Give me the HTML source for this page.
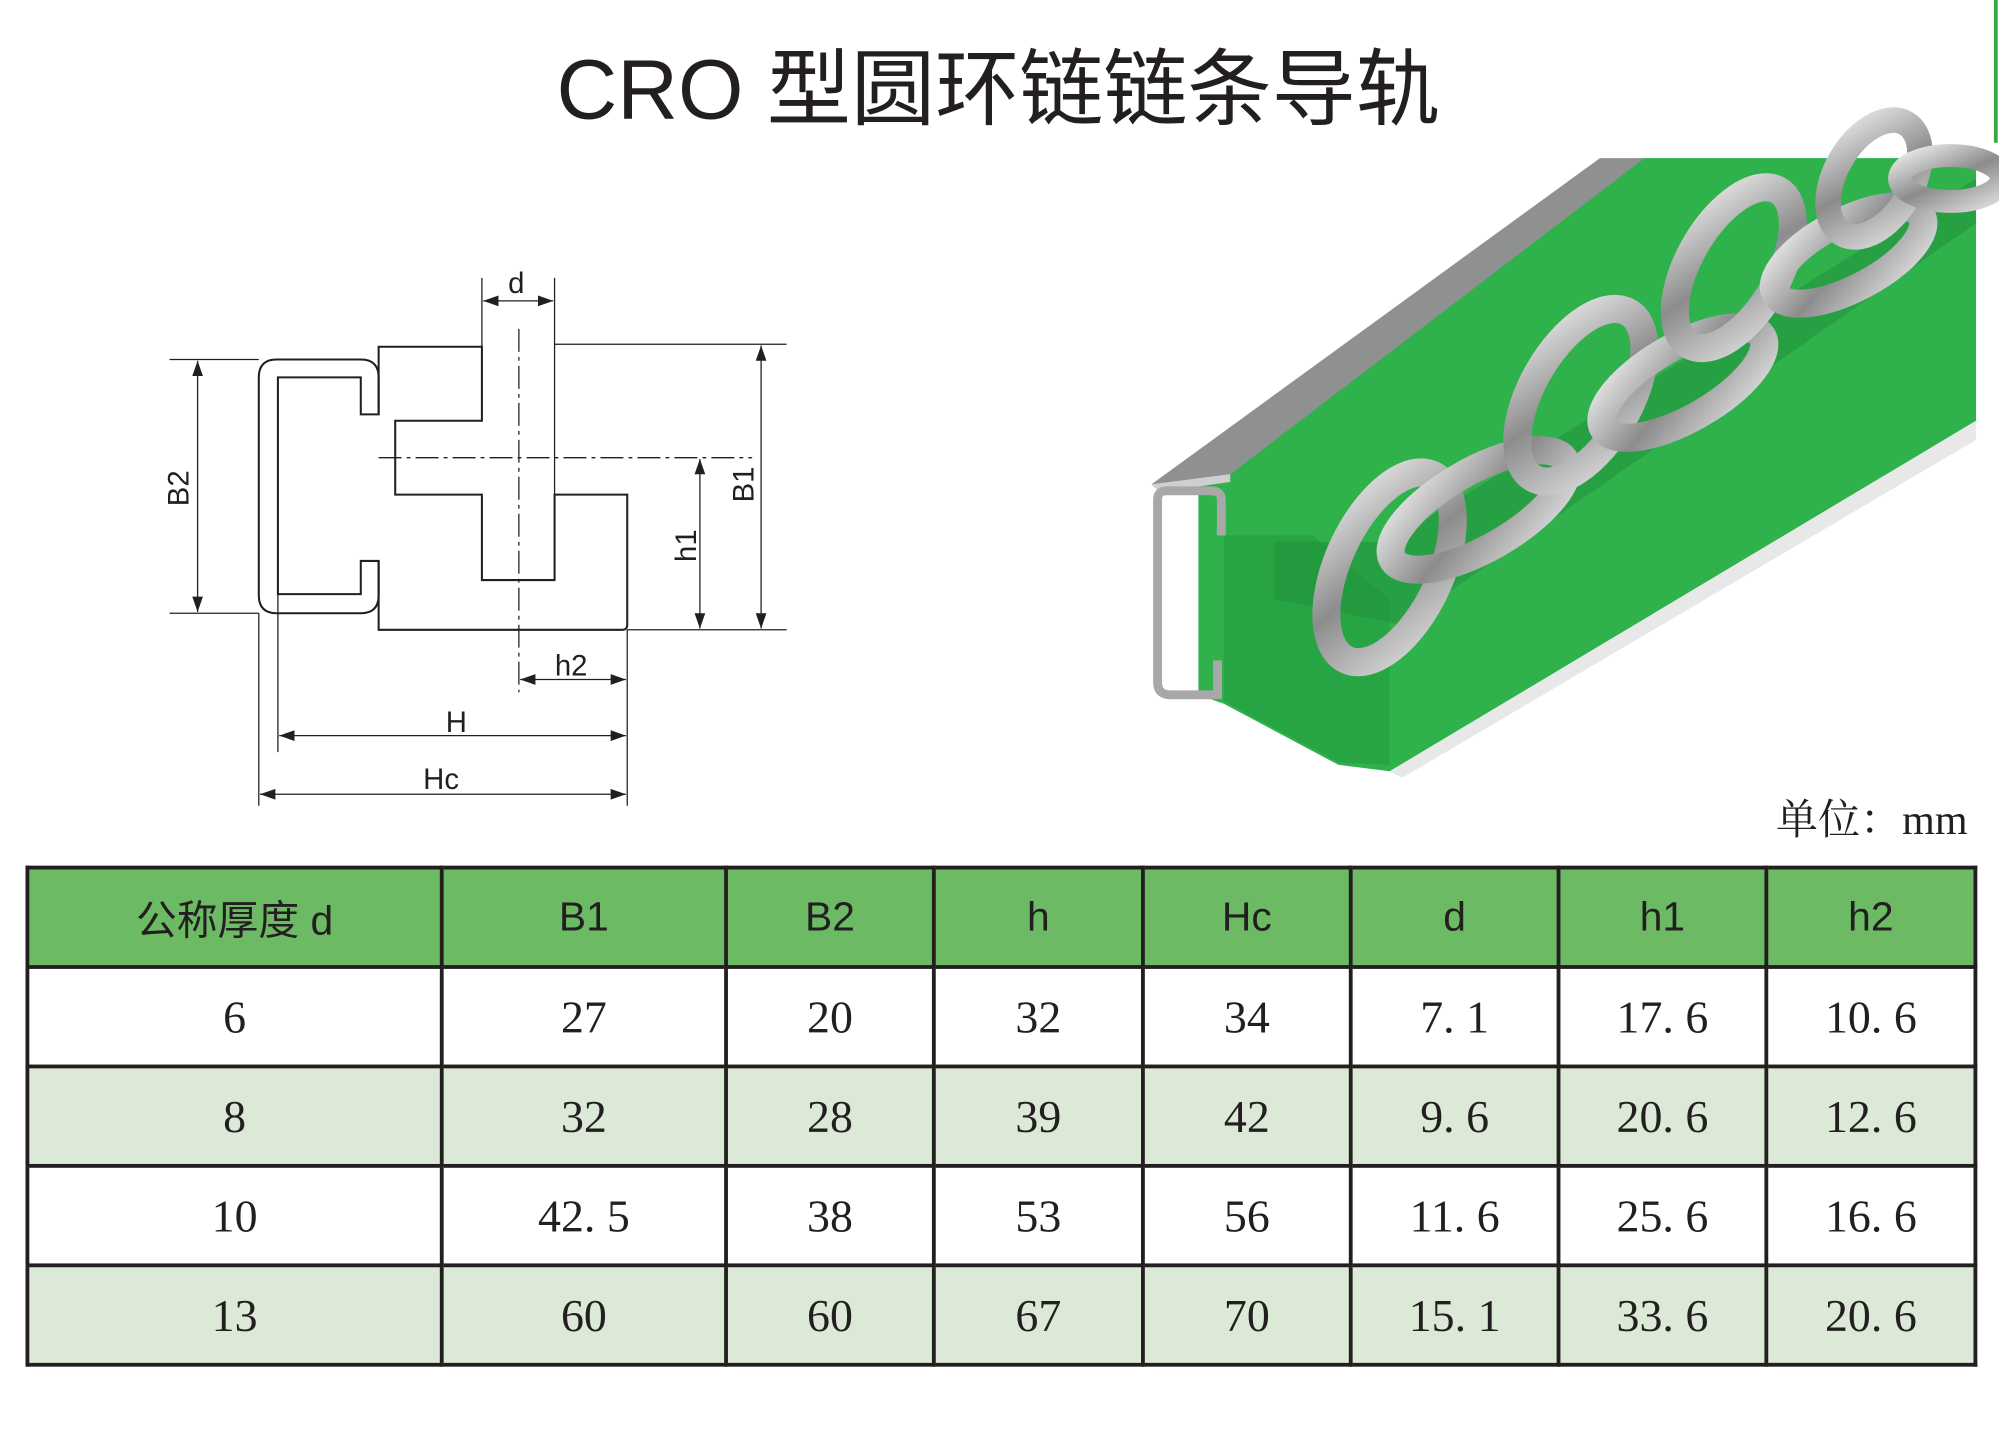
<!DOCTYPE html>
<html><head><meta charset="utf-8">
<style>
html,body{margin:0;padding:0;background:#fff;}
body{width:1999px;height:1447px;overflow:hidden;position:relative;}
#w{position:absolute;left:0;top:0;width:1568px;height:1135px;transform:scale(1.27487,1.27489);transform-origin:0 0;}
.t{position:absolute;font-family:"Liberation Sans","Noto Sans CJK SC",sans-serif;}
#title{left:300px;width:966px;top:30px;text-align:center;font-size:66px;color:#231f20;line-height:80px;white-space:nowrap;}
#unit{left:1393px;top:617px;font-family:"Liberation Serif","Noto Serif CJK SC",serif;font-size:33px;color:#231f20;}
table{position:absolute;left:20px;top:679px;border-collapse:collapse;}
td{border:3px solid #231f20;text-align:center;padding:0;font-family:"Liberation Serif","Noto Serif CJK SC",serif;font-size:36px;color:#231f20;height:75px;}
tr.h td{background:#6cba63;font-family:"Liberation Sans","Noto Sans CJK SC",sans-serif;font-size:32px;}
tr.g td{background:#dbe9d6;}
</style></head><body><div id="w">
<div class="t" id="title">CRO 型圆环链链条导轨</div>
<div style="position:absolute;left:1564px;top:0;width:3px;height:112px;background:#3aa845"></div>

<svg width="1568" height="1135" style="position:absolute;left:0;top:0" xmlns="http://www.w3.org/2000/svg">
<defs>
<marker id="a" viewBox="0 0 10 10" refX="10" refY="5" markerWidth="12" markerHeight="12" markerUnits="userSpaceOnUse" orient="auto-start-reverse"><path d="M0,1.5 L10,5 L0,8.5z" fill="#231f20"/></marker>
<linearGradient id="st" x1="0" y1="0" x2="1" y2="1"><stop offset="0" stop-color="#e4e4e4"/><stop offset=".5" stop-color="#8c8c8c"/><stop offset="1" stop-color="#d8d8d8"/></linearGradient>
</defs>
<g stroke="#231f20" fill="none" stroke-width="1.6">
<path d="M297,325 V296 Q297,282 283,282 H217 Q203,282 203,296 V467 Q203,481 217,481 H283 Q297,481 297,467 V440 H283 V466 H218 V296 H283 V325 Z"/>
<path d="M297,325 V272 H378 V330 H310 V388 H378 V455 H435 V388 H492 V490 Q492,494 488,494 H297 V440"/>
</g>
<g stroke="#231f20" stroke-width="1" fill="none">
<line x1="133" y1="282" x2="203" y2="282"/><line x1="133" y1="481" x2="203" y2="481"/>
<line x1="435" y1="270" x2="617" y2="270"/><line x1="492" y1="494" x2="617" y2="494"/>
<line x1="378" y1="218" x2="378" y2="272"/><line x1="435" y1="218" x2="435" y2="388"/>
<line x1="218" y1="466" x2="218" y2="590"/><line x1="203" y1="481" x2="203" y2="632"/>
<line x1="492" y1="494" x2="492" y2="632"/>
<line x1="407" y1="258" x2="407" y2="543" stroke-dasharray="18,4,3,4"/>
<line x1="297" y1="359" x2="590" y2="359" stroke-dasharray="18,4,3,4"/>
<line x1="155" y1="283" x2="155" y2="480" marker-start="url(#a)" marker-end="url(#a)"/>
<line x1="597" y1="271" x2="597" y2="493" marker-start="url(#a)" marker-end="url(#a)"/>
<line x1="549" y1="360" x2="549" y2="493" marker-start="url(#a)" marker-end="url(#a)"/>
<line x1="379" y1="236" x2="434" y2="236" marker-start="url(#a)" marker-end="url(#a)"/>
<line x1="408" y1="533" x2="491" y2="533" marker-start="url(#a)" marker-end="url(#a)"/>
<line x1="219" y1="577" x2="491" y2="577" marker-start="url(#a)" marker-end="url(#a)"/>
<line x1="204" y1="623" x2="491" y2="623" marker-start="url(#a)" marker-end="url(#a)"/>
</g>
<g font-family="Liberation Sans,sans-serif" font-size="23" fill="#231f20" text-anchor="middle">
<text x="405" y="230">d</text>
<text x="448" y="530">h2</text>
<text x="358" y="574">H</text>
<text x="346" y="619">Hc</text>
<text transform="translate(148,383) rotate(-90)">B2</text>
<text transform="translate(591,380) rotate(-90)">B1</text>
<text transform="translate(546,428) rotate(-90)">h1</text>
</g>

<polygon points="940,378 965,372 1285,124 1550,124 1550,330 1090,605 1050,600 960,552 940,545" fill="#2fb14c"/>
<polygon points="1090,605 1550,330 1550,345 1100,610" fill="#e8e8e8"/>
<polygon points="960,420 1030,420 1090,470 1090,600 1050,598 960,550" fill="#27a443"/>
<polygon points="1000,425 1090,425 1550,140 1550,175 1100,490 1000,470" fill="#1f8f3a" opacity=".5"/>
<polygon points="903,380 1255,124 1290,124 965,372" fill="#8e9190"/>
<polygon points="903,380 965,372 965,378 910,386" fill="#cfcfcf"/>
<path d="M958,420 V392 Q958,385 950,385 H915 Q908,385 908,392 V535 Q908,545 918,545 H955 V518" stroke="#a8a8a8" stroke-width="7" fill="none"/>
<g fill="none" stroke="url(#st)">
<ellipse cx="1090" cy="445" rx="40" ry="80" transform="rotate(25 1090 445)" stroke-width="22"/>
<ellipse cx="1160" cy="400" rx="78" ry="30" transform="rotate(-30 1160 400)" stroke-width="22"/>
<ellipse cx="1240" cy="310" rx="38" ry="75" transform="rotate(30 1240 310)" stroke-width="22"/>
<ellipse cx="1320" cy="300" rx="72" ry="28" transform="rotate(-30 1320 300)" stroke-width="22"/>
<ellipse cx="1360" cy="210" rx="35" ry="70" transform="rotate(30 1360 210)" stroke-width="22"/>
<ellipse cx="1450" cy="200" rx="65" ry="26" transform="rotate(-28 1450 200)" stroke-width="22"/>
<ellipse cx="1470" cy="140" rx="30" ry="50" transform="rotate(30 1470 140)" stroke-width="20"/>
<ellipse cx="1530" cy="140" rx="40" ry="18" stroke-width="18"/>
</g>
</svg>

<div class="t" id="unit">单位：mm</div>

<table>
<colgroup><col style="width:325px"><col style="width:223px"><col style="width:163px"><col style="width:164px"><col style="width:163px"><col style="width:163px"><col style="width:163px"><col style="width:164px"></colgroup>
<tr class="h"><td>公称厚度 d</td><td>B1</td><td>B2</td><td>h</td><td>Hc</td><td>d</td><td>h1</td><td>h2</td></tr>
<tr><td>6</td><td>27</td><td>20</td><td>32</td><td>34</td><td>7. 1</td><td>17. 6</td><td>10. 6</td></tr>
<tr class="g"><td>8</td><td>32</td><td>28</td><td>39</td><td>42</td><td>9. 6</td><td>20. 6</td><td>12. 6</td></tr>
<tr><td>10</td><td>42. 5</td><td>38</td><td>53</td><td>56</td><td>11. 6</td><td>25. 6</td><td>16. 6</td></tr>
<tr class="g"><td>13</td><td>60</td><td>60</td><td>67</td><td>70</td><td>15. 1</td><td>33. 6</td><td>20. 6</td></tr>
</table>
</div></body></html>
